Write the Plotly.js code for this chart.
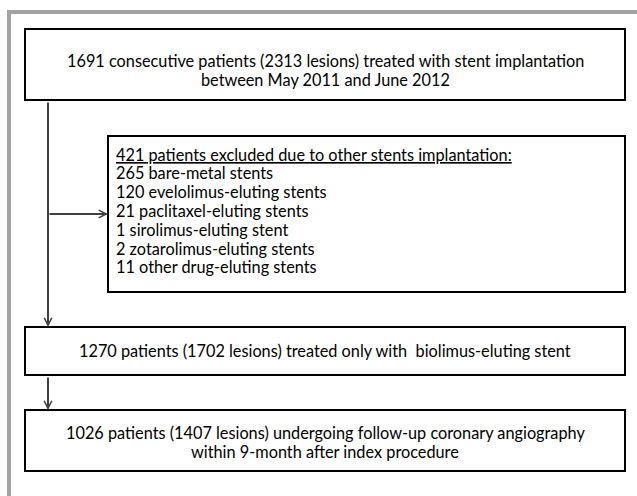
<!DOCTYPE html>
<html>
<head>
<meta charset="utf-8">
<script src="https://cdn.plot.ly/plotly-3.0.1.min.js"></script>
<style>html,body{margin:0;padding:0;background:#fff;}#chart{width:637px;height:496px;}</style>
</head>
<body>
<div id="chart"></div>
<script>
// ---- data ----
const screenedPatients = 1691;
const screenedLesions = 2313;
const screenPeriod = "between May 2011 and June 2012";
const excludedPatients = 421;
const excludedStentTypes = ["bare-metal stents", "evelolimus-eluting stents", "paclitaxel-eluting stents",
  "sirolimus-eluting stent", "zotarolimus-eluting stents", "other drug-eluting stents"];
const excludedCounts = [265, 120, 21, 1, 2, 11];
const includedPatients = 1270;
const includedLesions = 1702;
const followupPatients = 1026;
const followupLesions = 1407;

// ---- layout geometry (pixel space) ----
const FONT = "Lato, 'Liberation Sans', sans-serif";
const FS = 16.3;
const boxes = [
  {x0: 25, x1: 625, y0: 29, y1: 100},
  {x0: 108, x1: 625, y0: 136, y1: 292},
  {x0: 25, x1: 625, y0: 327, y1: 375},
  {x0: 25, x1: 625, y0: 410, y1: 471}
];
const trunkX = 48;

const shapes = [];
// grey outer frame
shapes.push({type: 'line', x0: 7, x1: 637, y0: 12, y1: 12, line: {color: '#a3a3a3', width: 4}});
shapes.push({type: 'line', x0: 9, x1: 9, y0: 10, y1: 496, line: {color: '#a3a3a3', width: 4}});
boxes.forEach(b => shapes.push({type: 'rect', x0: b.x0, x1: b.x1, y0: b.y0, y1: b.y1,
  line: {color: '#000', width: 2}, fillcolor: 'rgba(0,0,0,0)'}));

const ann = [];
function arrow(x0, y0, x1, y1) {
  ann.push({x: x1, y: y1, ax: x0, ay: y0, xref: 'x', yref: 'y', axref: 'x', ayref: 'y',
    text: '', showarrow: true, arrowhead: 5, arrowsize: 0.75, arrowwidth: 2,
    arrowcolor: '#404040', standoff: 0, startstandoff: 0});
}
arrow(trunkX, boxes[0].y1 + 1, trunkX, boxes[2].y0);
arrow(trunkX, 214, boxes[1].x0, 214);
arrow(trunkX, boxes[2].y1 + 1, trunkX, boxes[3].y0);

function txt(x, y, s, align) {
  ann.push({x: x, y: y, xref: 'x', yref: 'y', text: s, showarrow: false,
    xanchor: align === 'left' ? 'left' : 'center', yanchor: 'middle', align: align || 'center',
    font: {family: FONT, size: FS, color: '#000'}});
}
const cx = (boxes[0].x0 + boxes[0].x1) / 2;
txt(cx, 60, screenedPatients + " consecutive patients (" + screenedLesions + " lesions) treated with stent implantation");
txt(cx, 79, screenPeriod);
const exLines = ["<u>" + excludedPatients + " patients excluded due to other stents implantation:</u>"]
  .concat(excludedStentTypes.map((t, i) => excludedCounts[i] + " " + t));
exLines.forEach((s, i) => txt(114, 154 + i * 18.8, s, 'left'));
txt(cx, 350, includedPatients + " patients (" + includedLesions + " lesions) treated only with  biolimus-eluting stent");
txt(cx, 432, followupPatients + " patients (" + followupLesions + " lesions) undergoing follow-up coronary angiography");
txt(cx, 451, "within 9-month after index procedure");

const layout = {
  width: 637, height: 496,
  margin: {l: 0, r: 0, t: 0, b: 0},
  paper_bgcolor: '#fff', plot_bgcolor: '#fff',
  xaxis: {range: [0, 637], visible: false, fixedrange: true},
  yaxis: {range: [496, 0], visible: false, fixedrange: true},
  shapes: shapes, annotations: ann, showlegend: false
};
Plotly.newPlot('chart', [], layout, {staticPlot: true, displayModeBar: false});
</script>
</body>
</html>
